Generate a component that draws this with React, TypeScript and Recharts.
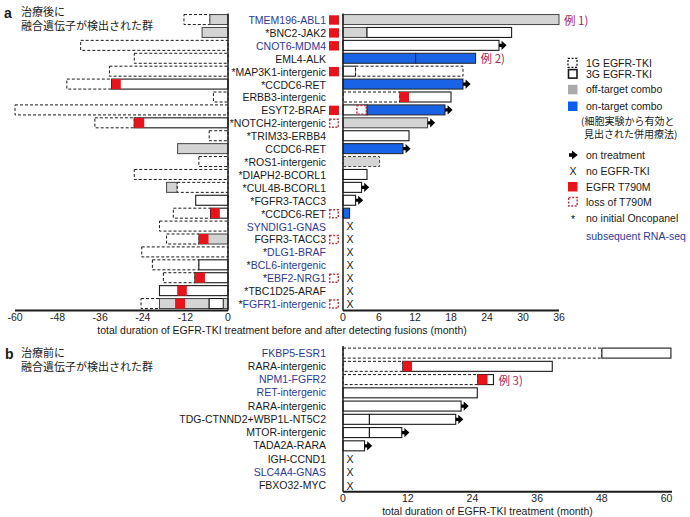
import React from 'react';
import { BarChart, Bar, XAxis, YAxis, ReferenceLine } from 'recharts';

type Seg = [string, number, number];

// panel a: fusions found after treatment
const namesA = [
  'TMEM196-ABL1', '*BNC2-JAK2', 'CNOT6-MDM4', 'EML4-ALK', '*MAP3K1-intergenic', '*CCDC6-RET',
  'ERBB3-intergenic', 'ESYT2-BRAF', '*NOTCH2-intergenic', '*TRIM33-ERBB4', 'CCDC6-RET',
  '*ROS1-intergenic', '*DIAPH2-BCORL1', '*CUL4B-BCORL1', '*FGFR3-TACC3', '*CCDC6-RET',
  'SYNDIG1-GNAS', 'FGFR3-TACC3', '*DLG1-BRAF', '*BCL6-intergenic', '*EBF2-NRG1',
  '*TBC1D25-ARAF', '*FGFR1-intergenic',
];
const rnaA = [1, 0, 1, 0, 0, 0, 0, 0, 0, 0, 0, 0, 0, 0, 0, 0, 1, 0, 1, 1, 1, 0, 1];
const markA = ['tm', 'tm', 'tm', '', 'tm', '', '', 'tm', 'loss', '', '', '', '', '', '', 'loss', '', 'loss', '', '', 'loss', '', 'loss'];
const arrowA = [0, 0, 1, 0, 0, 1, 0, 1, 1, 0, 1, 0, 0, 1, 1, 0, 0, 0, 0, 0, 0, 0, 0];
const noteA = ['例 1)', '', '', '例 2)', '', '', '', '', '', '', '', '', '', '', '', '', '', '', '', '', '', '', ''];
const noTkiA = [0, 0, 0, 0, 0, 0, 0, 0, 0, 0, 0, 0, 0, 0, 0, 0, 1, 1, 1, 1, 1, 1, 1];

const beforeA: Seg[][] = [
  [['g1', -12.4, -5.1], ['off', -5.1, 0]],
  [['off', -7.3, 0]],
  [['g1', -41.5, 0]],
  [['g1', -26.4, 0]],
  [['g1', -33.4, 0]],
  [['g1', -45.4, -32.8], ['g3', -32.8, 0], ['tm', -32.8, -30.2]],
  [['g1', -4.1, 0]],
  [['g1', -60, 0]],
  [['g1', -37.5, -26.4], ['g3', -26.4, 0], ['tm', -26.4, -23.6]],
  [['g1', -5.3, 0]],
  [['off', -14.2, 0]],
  [['g1', -8.2, 0]],
  [['g1', -26.4, 0]],
  [['off', -17.3, -14.3], ['g1', -14.3, 0]],
  [['g3', -9.1, 0]],
  [['g1', -15.4, -4.9], ['g3', -4.9, 0], ['tm', -4.9, -2.3]],
  [['g1', -19.3, 0]],
  [['g1', -17.3, -8.2], ['off', -8.2, 0], ['tm', -8.2, -5.5]],
  [['g1', -24.3, 0]],
  [['g1', -21.3, -8.2], ['g3', -8.2, 0]],
  [['g1', -18.2, -9.3], ['g3', -9.3, 0], ['tm', -9.3, -6.5]],
  [['g3', -19.3, 0], ['tm', -14.3, -11.6]],
  [['g1', -24.5, -19.3], ['off', -19.3, -5.3], ['g3', -5.3, -1.3], ['off', -1.3, 0], ['tm', -14.9, -12.1]],
];

const afterA: Seg[][] = [
  [['off', 0, 36]],
  [['off', 0, 4], ['g3', 4, 28.1]],
  [['g3', 0, 26]],
  [['on', 0, 12.1], ['on', 12.1, 22.1]],
  [['g3', 0, 2.1], ['g1', 2.1, 20]],
  [['on', 0, 20]],
  [['g1', 0, 9.5], ['g3', 9.5, 18], ['tm', 9.5, 11]],
  [['g3', 0, 4], ['on', 4, 17], ['loss', 2.2, 4]],
  [['off', 0, 14.1]],
  [['g3', 0, 11]],
  [['on', 0, 10]],
  [['offd', 0, 6.1]],
  [['g3', 0, 4]],
  [['g3', 0, 3.1]],
  [['g3', 0, 2.1]],
  [['on', 0, 1.1]],
  [], [], [], [], [], [], [],
];

// panel b: fusions found before treatment
const namesB = [
  'FKBP5-ESR1', 'RARA-intergenic', 'NPM1-FGFR2', 'RET-intergenic', 'RARA-intergenic',
  'TDG-CTNND2+WBP1L-NT5C2', 'MTOR-intergenic', 'TADA2A-RARA', 'IGH-CCND1', 'SLC4A4-GNAS', 'FBXO32-MYC',
];
const rnaB = [1, 0, 1, 1, 0, 0, 0, 0, 0, 1, 0];
const arrowB = [0, 0, 0, 0, 1, 1, 1, 1, 0, 0, 0];
const noteB = ['', '', '例 3)', '', '', '', '', '', '', '', ''];
const noTkiB = [0, 0, 0, 0, 0, 0, 0, 0, 1, 1, 1];
const segsB: Seg[][] = [
  [['g1', 0, 48], ['g3', 48, 60.8]],
  [['g1', 0, 11.1], ['g3', 11.1, 38.8], ['tm', 11.1, 12.8]],
  [['g1', 0, 25], ['g3', 25, 27.9], ['tm', 25, 26.8]],
  [['g3', 0, 24.9]],
  [['g3', 0, 21.9]],
  [['g3', 0, 4.9], ['g3', 4.9, 20.9]],
  [['g3', 0, 4.9], ['g3', 4.9, 10.9]],
  [['g3', 0, 4]],
  [], [], [],
];

const ticksLeft = [-60, -48, -36, -24, -12, 0];
const ticksRight = [0, 6, 12, 18, 24, 30, 36];
const ticksB = [0, 12, 24, 36, 48, 60];

const FONT = '"Liberation Sans", Arial, sans-serif';
const JP = '"Noto Sans CJK JP", sans-serif';
const INK = '#1a1a1a';
const NAVY = '#2d3a96';
const RED = '#e8141c';
const LOSS = '#b03a44';
const GREY = '#d4d4d4';
const BLUE = '#1863e6';
const NOTE = '#a8275e';

function buildRows(names: string[], rna: number[], segs: Seg[][], marks?: string[], arrows?: number[], notes?: string[], none?: number[]) {
  return names.map((name, i) => {
    const list = segs[i];
    const bars = list.filter((s) => s[0] !== 'tm' && s[0] !== 'loss');
    const top = bars.reduce((m, s) => Math.max(m, s[2]), -Infinity);
    const topIdx = list.findIndex((s) => s[0] !== 'tm' && s[0] !== 'loss' && s[2] === top);
    return {
      key: String(i), name, rna: !!rna[i], segs: list, topIdx,
      mark: marks ? marks[i] : '', arrow: arrows ? !!arrows[i] : false,
      note: notes ? notes[i] : '', none: none ? !!none[i] : false,
    };
  });
}

const rowsBefore = buildRows(namesA, rnaA, beforeA);
const rowsAfter = buildRows(namesA, rnaA, afterA, markA, arrowA, noteA, noTkiA);
const rowsB = buildRows(namesB, rnaB, segsB, undefined, arrowB, noteB, noTkiB);

function box(t: string, x: number, y: number, w: number, h: number) {
  switch (t) {
    case 'g1':
      return <rect x={x} y={y} width={w} height={h} fill="#fff" stroke={INK} strokeWidth={1} strokeDasharray="3 2" />;
    case 'g3':
      return <rect x={x} y={y} width={w} height={h} fill="#fff" stroke={INK} strokeWidth={1.1} />;
    case 'off':
      return <rect x={x} y={y} width={w} height={h} fill={GREY} stroke="#444" strokeWidth={1} />;
    case 'offd':
      return <rect x={x} y={y} width={w} height={h} fill={GREY} stroke="#444" strokeWidth={1} strokeDasharray="3 2" />;
    case 'on':
      return <rect x={x} y={y} width={w} height={h} fill={BLUE} stroke="#222" strokeWidth={1} />;
    case 'tm':
      return <rect x={x} y={y} width={w} height={h} fill={RED} />;
    case 'loss':
      return <rect x={x + 0.7} y={y + 0.7} width={w - 1.4} height={h - 1.4} fill="#fff" stroke={LOSS} strokeWidth={1.5} strokeDasharray="2 1.5" />;
    default:
      return null;
  }
}

function arrowPath(xe: number, yc: number) {
  return `M${xe},${yc - 1.6} L${xe + 2.6},${yc - 1.6} L${xe + 2.6},${yc - 4.6} L${xe + 7.6},${yc} L${xe + 2.6},${yc + 4.6} L${xe + 2.6},${yc + 1.6} L${xe},${yc + 1.6} Z`;
}

const segShape = (slot: number) => (p: any) => {
  const row = p.payload;
  const seg: Seg | undefined = row && row.segs[slot];
  if (!seg || !(p.width > 0)) return <g />;
  const { x, y, width: w, height: h } = p;
  const end = slot === row.topIdx;
  return (
    <g>
      {box(seg[0], x, y, w, h)}
      {end && row.arrow && <path d={arrowPath(x + w, y + h / 2)} fill="#000" />}
      {end && row.note && (
        <text x={x + w + 5} y={y + h / 2} dominantBaseline="central" fontSize={11.5} fontFamily={JP} fill={NOTE}>
          {row.note}
        </text>
      )}
    </g>
  );
};

const noneShape = (p: any) => {
  if (!p.payload || !p.payload.none) return <g />;
  return (
    <text x={p.x + 3.5} y={p.y + p.height / 2} dominantBaseline="central" fontSize={10.5} fontFamily={FONT} fill={INK}>
      X
    </text>
  );
};

const labelTick = (rows: any[]) => (p: any) => {
  const row = rows[Number(p.payload.value)];
  if (!row) return <g />;
  const star = row.name.startsWith('*');
  const rest = star ? row.name.slice(1) : row.name;
  const mx = p.x - 14;
  return (
    <g>
      <text x={p.x - 17} y={p.y} textAnchor="end" dominantBaseline="central" fontSize={10.5} fontFamily={FONT}>
        {star && <tspan fill={INK}>*</tspan>}
        <tspan fill={row.rna ? NAVY : INK}>{rest}</tspan>
      </text>
      {row.mark === 'tm' && <rect x={mx} y={p.y - 4.7} width={10} height={9.4} fill={RED} />}
      {row.mark === 'loss' && (
        <rect x={mx + 0.7} y={p.y - 4} width={8.6} height={8} fill="#fff" stroke={LOSS} strokeWidth={1.5} strokeDasharray="2 1.5" />
      )}
    </g>
  );
};

const tickStyle = { fontSize: 10.5, fill: '#222', fontFamily: FONT };

function SegBars({ rows }: { rows: any[] }) {
  const slots = Math.max(...rows.map((r) => r.segs.length));
  const out = [];
  for (let k = 0; k < slots; k++) {
    out.push(
      <Bar
        key={`s${k}`}
        dataKey={(r: any) => (r.segs[k] ? [r.segs[k][1], r.segs[k][2]] : null)}
        barSize={10}
        shape={segShape(k)}
        isAnimationActive={false}
      />
    );
  }
  return out;
}

function ChartLeftA() {
  return (
    <BarChart
      layout="vertical"
      width={240}
      height={340}
      data={rowsBefore}
      margin={{ top: 13.55, right: 12, bottom: 9.55, left: 15 }}
      barSize={10}
      barGap={-10}
    >
      <XAxis
        type="number"
        domain={[-60, 0]}
        ticks={ticksLeft}
        interval={0}
        height={20}
        tickLine={false}
        tickSize={1}
        tickMargin={2}
        axisLine={{ stroke: INK, strokeWidth: 2 }}
        tick={tickStyle}
      />
      <YAxis type="category" dataKey="key" hide width={0} />
      {SegBars({ rows: rowsBefore })}
      <ReferenceLine x={0} stroke={INK} strokeWidth={1.5} />
    </BarChart>
  );
}

function ChartRightA() {
  return (
    <BarChart
      layout="vertical"
      width={420}
      height={340}
      data={rowsAfter}
      margin={{ top: 13.55, right: 41, bottom: 9.55, left: 0 }}
      barSize={10}
      barGap={-10}
    >
      <XAxis
        type="number"
        domain={[0, 36]}
        ticks={ticksRight}
        interval={0}
        height={20}
        tickLine={false}
        tickSize={1}
        tickMargin={2}
        axisLine={{ stroke: INK, strokeWidth: 2 }}
        tick={tickStyle}
      />
      <YAxis
        type="category"
        dataKey="key"
        width={163}
        interval={0}
        tickLine={false}
        tickSize={0}
        tickMargin={0}
        axisLine={{ stroke: INK, strokeWidth: 1.5 }}
        tick={labelTick(rowsAfter)}
      />
      {SegBars({ rows: rowsAfter })}
      <Bar dataKey={(r: any) => (r.none ? [0, 1] : null)} barSize={10} shape={noneShape} isAnimationActive={false} />
    </BarChart>
  );
}

function ChartB() {
  return (
    <BarChart
      layout="vertical"
      width={540}
      height={187}
      data={rowsB}
      margin={{ top: 16.1, right: 18, bottom: 5.2, left: 0 }}
      barSize={10}
      barGap={-10}
    >
      <XAxis
        type="number"
        domain={[0, 61]}
        ticks={ticksB}
        interval={0}
        height={20}
        tickLine={false}
        tickSize={1}
        tickMargin={2}
        axisLine={{ stroke: INK, strokeWidth: 2 }}
        tick={tickStyle}
      />
      <YAxis
        type="category"
        dataKey="key"
        width={193}
        interval={0}
        tickLine={false}
        tickSize={0}
        tickMargin={0}
        axisLine={{ stroke: INK, strokeWidth: 1.5 }}
        tick={labelTick(rowsB)}
      />
      {SegBars({ rows: rowsB })}
      <Bar dataKey={(r: any) => (r.none ? [0, 1] : null)} barSize={10} shape={noneShape} isAnimationActive={false} />
    </BarChart>
  );
}

function Overlay() {
  const lx = 568;
  const tx = 586;
  const t = (y: number, s: string, fill = INK) => (
    <text x={tx} y={y} dominantBaseline="central" fontSize={10.5} fontFamily={FONT} fill={fill}>{s}</text>
  );
  return (
    <svg width={690} height={517} style={{ position: 'absolute', left: 0, top: 0, pointerEvents: 'none' }}>
      {/* headings */}
      <text x={4} y={12.5} dominantBaseline="central" fontSize={14} fontWeight="bold" fontFamily={FONT} fill={INK}>a</text>
      <text x={21} y={10.8} dominantBaseline="central" fontSize={11} fontFamily={JP} fill={INK}>治療後に</text>
      <text x={21} y={25.4} dominantBaseline="central" fontSize={11} fontFamily={JP} fill={INK}>融合遺伝子が検出された群</text>
      <text x={5} y={354} dominantBaseline="central" fontSize={14} fontWeight="bold" fontFamily={FONT} fill={INK}>b</text>
      <text x={21} y={352} dominantBaseline="central" fontSize={11} fontFamily={JP} fill={INK}>治療前に</text>
      <text x={21} y={366.4} dominantBaseline="central" fontSize={11} fontFamily={JP} fill={INK}>融合遺伝子が検出された群</text>

      {/* axis titles */}
      <text x={282} y={329.8} textAnchor="middle" dominantBaseline="central" fontSize={10.5} fontFamily={FONT} fill={INK}>
        total duration of EGFR-TKI treatment before and after detecting fusions (month)
      </text>
      <text x={487.5} y={510.5} textAnchor="middle" dominantBaseline="central" fontSize={10.5} fontFamily={FONT} fill={INK}>
        total duration of EGFR-TKI treatment (month)
      </text>

      {/* legend */}
      <rect x={lx} y={58.3} width={9} height={9} fill="none" stroke={INK} strokeWidth={1.3} strokeDasharray="2 1.6" />
      {t(62.7, '1G EGFR-TKI')}
      <rect x={lx + 0.5} y={69.6} width={8.5} height={8.5} fill="none" stroke={INK} strokeWidth={1.6} />
      {t(73.8, '3G EGFR-TKI')}
      <rect x={lx} y={84.8} width={9.5} height={9.5} fill="#aaaaaa" />
      {t(89.3, 'off-target combo')}
      <rect x={lx} y={101.5} width={9.5} height={9.5} fill="#0b5cf2" />
      {t(106, 'on-target combo')}
      <text x={581} y={120} dominantBaseline="central" fontSize={10} fontFamily={JP} fill={INK}>(細胞実験から有効と</text>
      <text x={584} y={133} dominantBaseline="central" fontSize={10} fontFamily={JP} fill={INK}>見出された併用療法)</text>
      <path d={arrowPath(lx + 1, 155)} fill="#000" transform={`translate(${lx + 1} 155) scale(1.15 1) translate(${-lx - 1} -155)`} />
      <rect x={lx + 1} y={153.4} width={5} height={3.2} fill="#000" />
      {t(155, 'on treatment')}
      <text x={569.5} y={170.7} dominantBaseline="central" fontSize={10.5} fontFamily={FONT} fill={INK}>X</text>
      {t(170.7, 'no EGFR-TKI')}
      <rect x={lx} y={182} width={9.5} height={9.5} fill={RED} />
      {t(186.7, 'EGFR T790M')}
      <rect x={lx + 0.7} y={197.5} width={8.5} height={8.5} fill="#fff" stroke={LOSS} strokeWidth={1.5} strokeDasharray="2 1.5" />
      {t(201.7, 'loss of T790M')}
      <text x={571} y={219} dominantBaseline="central" fontSize={10.5} fontFamily={FONT} fill={INK}>*</text>
      {t(218, 'no initial Oncopanel')}
      {t(235.7, 'subsequent RNA-seq', NAVY)}
    </svg>
  );
}

export default function App() {
  return (
    <div style={{ position: 'absolute', left: 0, top: 0, width: 690, height: 517, background: '#fff', overflow: 'hidden' }}>
      <div style={{ position: 'absolute', left: 0, top: 0 }}>
        <ChartLeftA />
      </div>
      <div style={{ position: 'absolute', left: 180, top: 0 }}>
        <ChartRightA />
      </div>
      <div style={{ position: 'absolute', left: 150, top: 330 }}>
        <ChartB />
      </div>
      <Overlay />
    </div>
  );
}
